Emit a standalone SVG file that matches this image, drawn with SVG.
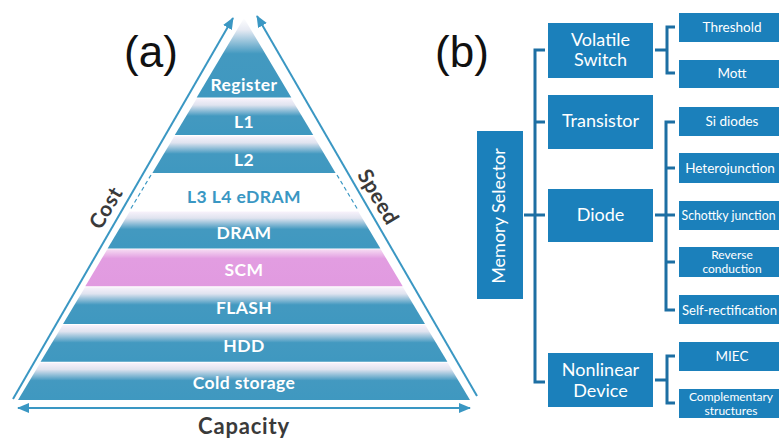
<svg xmlns="http://www.w3.org/2000/svg" width="779" height="438" viewBox="0 0 779 438">
<defs>
<linearGradient id="band" x1="0" y1="0" x2="0" y2="1">
<stop offset="0" stop-color="#f8f2fb"/>
<stop offset="0.18" stop-color="#dfe3ef"/>
<stop offset="0.48" stop-color="#4399c0"/>
<stop offset="1" stop-color="#3f98c0"/>
</linearGradient>
<linearGradient id="top" x1="0" y1="0" x2="0" y2="1">
<stop offset="0" stop-color="#ffffff"/>
<stop offset="0.15" stop-color="#e6eaf3"/>
<stop offset="0.45" stop-color="#4399c0"/>
<stop offset="1" stop-color="#3f98c0"/>
</linearGradient>
<linearGradient id="pink" x1="0" y1="0" x2="0" y2="1">
<stop offset="0" stop-color="#f6dcf3"/>
<stop offset="0.25" stop-color="#e29de1"/>
<stop offset="1" stop-color="#e19ae0"/>
</linearGradient>
<marker id="ah" viewBox="0 0 12 10" refX="11" refY="5" markerWidth="12" markerHeight="10" markerUnits="userSpaceOnUse" orient="auto-start-reverse">
<path d="M0,0 L12,5 L0,10 Z" fill="#3a97c3"/>
</marker>
<style>
.pl{font-family:Lato,"DejaVu Sans",sans-serif;font-weight:bold;font-size:17.5px;fill:#fff;text-anchor:middle;letter-spacing:0.4px}
.ax{font-family:Lato,"DejaVu Sans",sans-serif;font-weight:bold;fill:#3a3a3a;text-anchor:middle}
.bx{fill:#1b80bb}
.bt{font-family:Lato,"DejaVu Sans",sans-serif;font-size:18px;fill:#fff;text-anchor:middle}
.lt{font-family:Lato,"DejaVu Sans",sans-serif;font-size:13.5px;fill:#fff;text-anchor:middle}
.lt2{font-family:Lato,"DejaVu Sans",sans-serif;font-size:12px;fill:#fff;text-anchor:middle}
.cn{fill:none;stroke:#1d6fa3;stroke-width:3}
.ar{fill:none;stroke:#3a97c3;stroke-width:2}
.ds{fill:none;stroke:#3a97c3;stroke-width:1.2;stroke-dasharray:4 3}
.lbl{font-family:"Liberation Sans",Arial,sans-serif;font-size:44px;fill:#111;text-anchor:middle}
</style>
</defs>

<g id="pyramid">
<g id="band-register"><path d="M244,18 L291.3,97.5 L196.7,97.5 Z" fill="url(#top)"/><text class="pl" x="244" y="91">Register</text></g>
<g id="band-l1"><path d="M196.7,98.5 L291.3,98.5 L313.2,135 L174.8,135 Z" fill="url(#band)"/><text class="pl" x="244" y="128">L1</text></g>
<g id="band-l2"><path d="M174.3,136.2 L313.7,136.2 L335.6,173 L152.4,173 Z" fill="url(#band)"/><text class="pl" x="244" y="166">L2</text></g>
<g id="band-l3"><path d="M152,174 L336,174 L358.3,211.2 L129.7,211.2 Z" fill="#ffffff"/>
<path class="ds" d="M151,175 L130,210"/><path class="ds" d="M337,175 L358,210"/>
<text class="pl" x="244" y="203" style="fill:#3a97c3">L3 L4 eDRAM</text></g>
<g id="band-dram"><path d="M129.7,211.5 L358.3,211.5 L380.4,248.5 L107.6,248.5 Z" fill="url(#band)"/><text class="pl" x="244" y="239">DRAM</text></g>
<g id="band-scm"><path d="M107.3,249.3 L380.7,249.3 L402.7,286.3 L85.3,286.3 Z" fill="url(#pink)"/><text class="pl" x="244" y="276">SCM</text></g>
<g id="band-flash"><path d="M85,287.2 L403,287.2 L425,324 L63,324 Z" fill="url(#band)"/><text class="pl" x="244" y="314">FLASH</text></g>
<g id="band-hdd"><path d="M62.7,325 L425.3,325 L447.4,361.8 L40.6,361.8 Z" fill="url(#band)"/><text class="pl" x="244" y="352">HDD</text></g>
<g id="band-cold"><path d="M40.3,362.7 L447.7,362.7 L470,400 L18,400 Z" fill="url(#band)"/><text class="pl" x="244" y="389">Cold storage</text></g>
</g>

<g id="axes">
<line class="ar" x1="13" y1="399" x2="233" y2="18" marker-end="url(#ah)"/>
<line class="ar" x1="477" y1="396" x2="257" y2="16" marker-end="url(#ah)"/>
<line class="ar" x1="18" y1="408" x2="470" y2="408" marker-start="url(#ah)" marker-end="url(#ah)"/>
<text class="ax" x="244" y="434" font-size="22" letter-spacing="0.8">Capacity</text>
<text class="ax" font-size="21" letter-spacing="0.5" transform="translate(106,208) rotate(-59.4)" y="7">Cost</text>
<text class="ax" font-size="21" letter-spacing="0.5" transform="translate(378,197) rotate(59.4)" y="7">Speed</text>
</g>

<text class="lbl" x="151" y="67">(a)</text>
<text class="lbl" x="462" y="67">(b)</text>

<g id="connectors">
<path class="cn" d="M545,50 L535,50 L535,382 L545,382"/>
<path class="cn" d="M535,122 L545,122"/>
<path class="cn" d="M524,215 L545,215"/>
<path class="cn" d="M655,50 L667,50"/>
<path class="cn" d="M675,27 L667,27 L667,73 L675,73"/>
<path class="cn" d="M675,122 L666,122 L666,310 L675,310"/>
<path class="cn" d="M666,168 L675,168"/>
<path class="cn" d="M655,215 L675,215"/>
<path class="cn" d="M666,262 L675,262"/>
<path class="cn" d="M655,380 L667,380"/>
<path class="cn" d="M675,356 L667,356 L667,403 L675,403"/>
</g>

<g id="memory-selector"><rect class="bx" x="477" y="131" width="46" height="168"/>
<text class="bt" font-size="18.5" transform="translate(505,216) rotate(-90)">Memory Selector</text></g>

<g id="volatile-switch"><rect class="bx" x="548" y="23" width="105" height="55"/>
<text class="bt" x="600.5" y="46">Volatile</text><text class="bt" x="600.5" y="66">Switch</text></g>
<g id="transistor"><rect class="bx" x="548" y="95" width="105" height="54"/>
<text class="bt" x="600.5" y="127">Transistor</text></g>
<g id="diode"><rect class="bx" x="548" y="189" width="105" height="53"/>
<text class="bt" x="600.5" y="221">Diode</text></g>
<g id="nonlinear-device"><rect class="bx" x="548" y="353" width="105" height="54"/>
<text class="bt" x="600.5" y="376">Nonlinear</text><text class="bt" x="600.5" y="397">Device</text></g>

<g id="threshold"><rect class="bx" x="679" y="13" width="110" height="29"/><text class="lt" x="732" y="32">Threshold</text></g>
<g id="mott"><rect class="bx" x="679" y="60" width="110" height="28"/><text class="lt" x="732" y="78">Mott</text></g>
<g id="si-diodes"><rect class="bx" x="679" y="107" width="110" height="29"/><text class="lt" x="732" y="126">Si diodes</text></g>
<g id="heterojunction"><rect class="bx" x="679" y="153" width="110" height="30"/><text class="lt" x="730" y="173">Heterojunction</text></g>
<g id="schottky"><rect class="bx" x="679" y="201" width="110" height="29"/><text class="lt" x="728.5" y="220" style="font-size:12.5px" textLength="94" lengthAdjust="spacingAndGlyphs">Schottky junction</text></g>
<g id="reverse"><rect class="bx" x="679" y="247" width="110" height="30"/><text class="lt2" x="732" y="259">Reverse</text><text class="lt2" x="732" y="273">conduction</text></g>
<g id="self-rect"><rect class="bx" x="679" y="295" width="110" height="29"/><text class="lt" x="682" y="315" style="text-anchor:start" textLength="95" lengthAdjust="spacingAndGlyphs">Self-rectification</text></g>
<g id="miec"><rect class="bx" x="679" y="342" width="110" height="29"/><text class="lt" x="732" y="361">MIEC</text></g>
<g id="complementary"><rect class="bx" x="679" y="389" width="110" height="29"/><text class="lt2" x="731" y="401">Complementary</text><text class="lt2" x="731" y="415">structures</text></g>
</svg>
